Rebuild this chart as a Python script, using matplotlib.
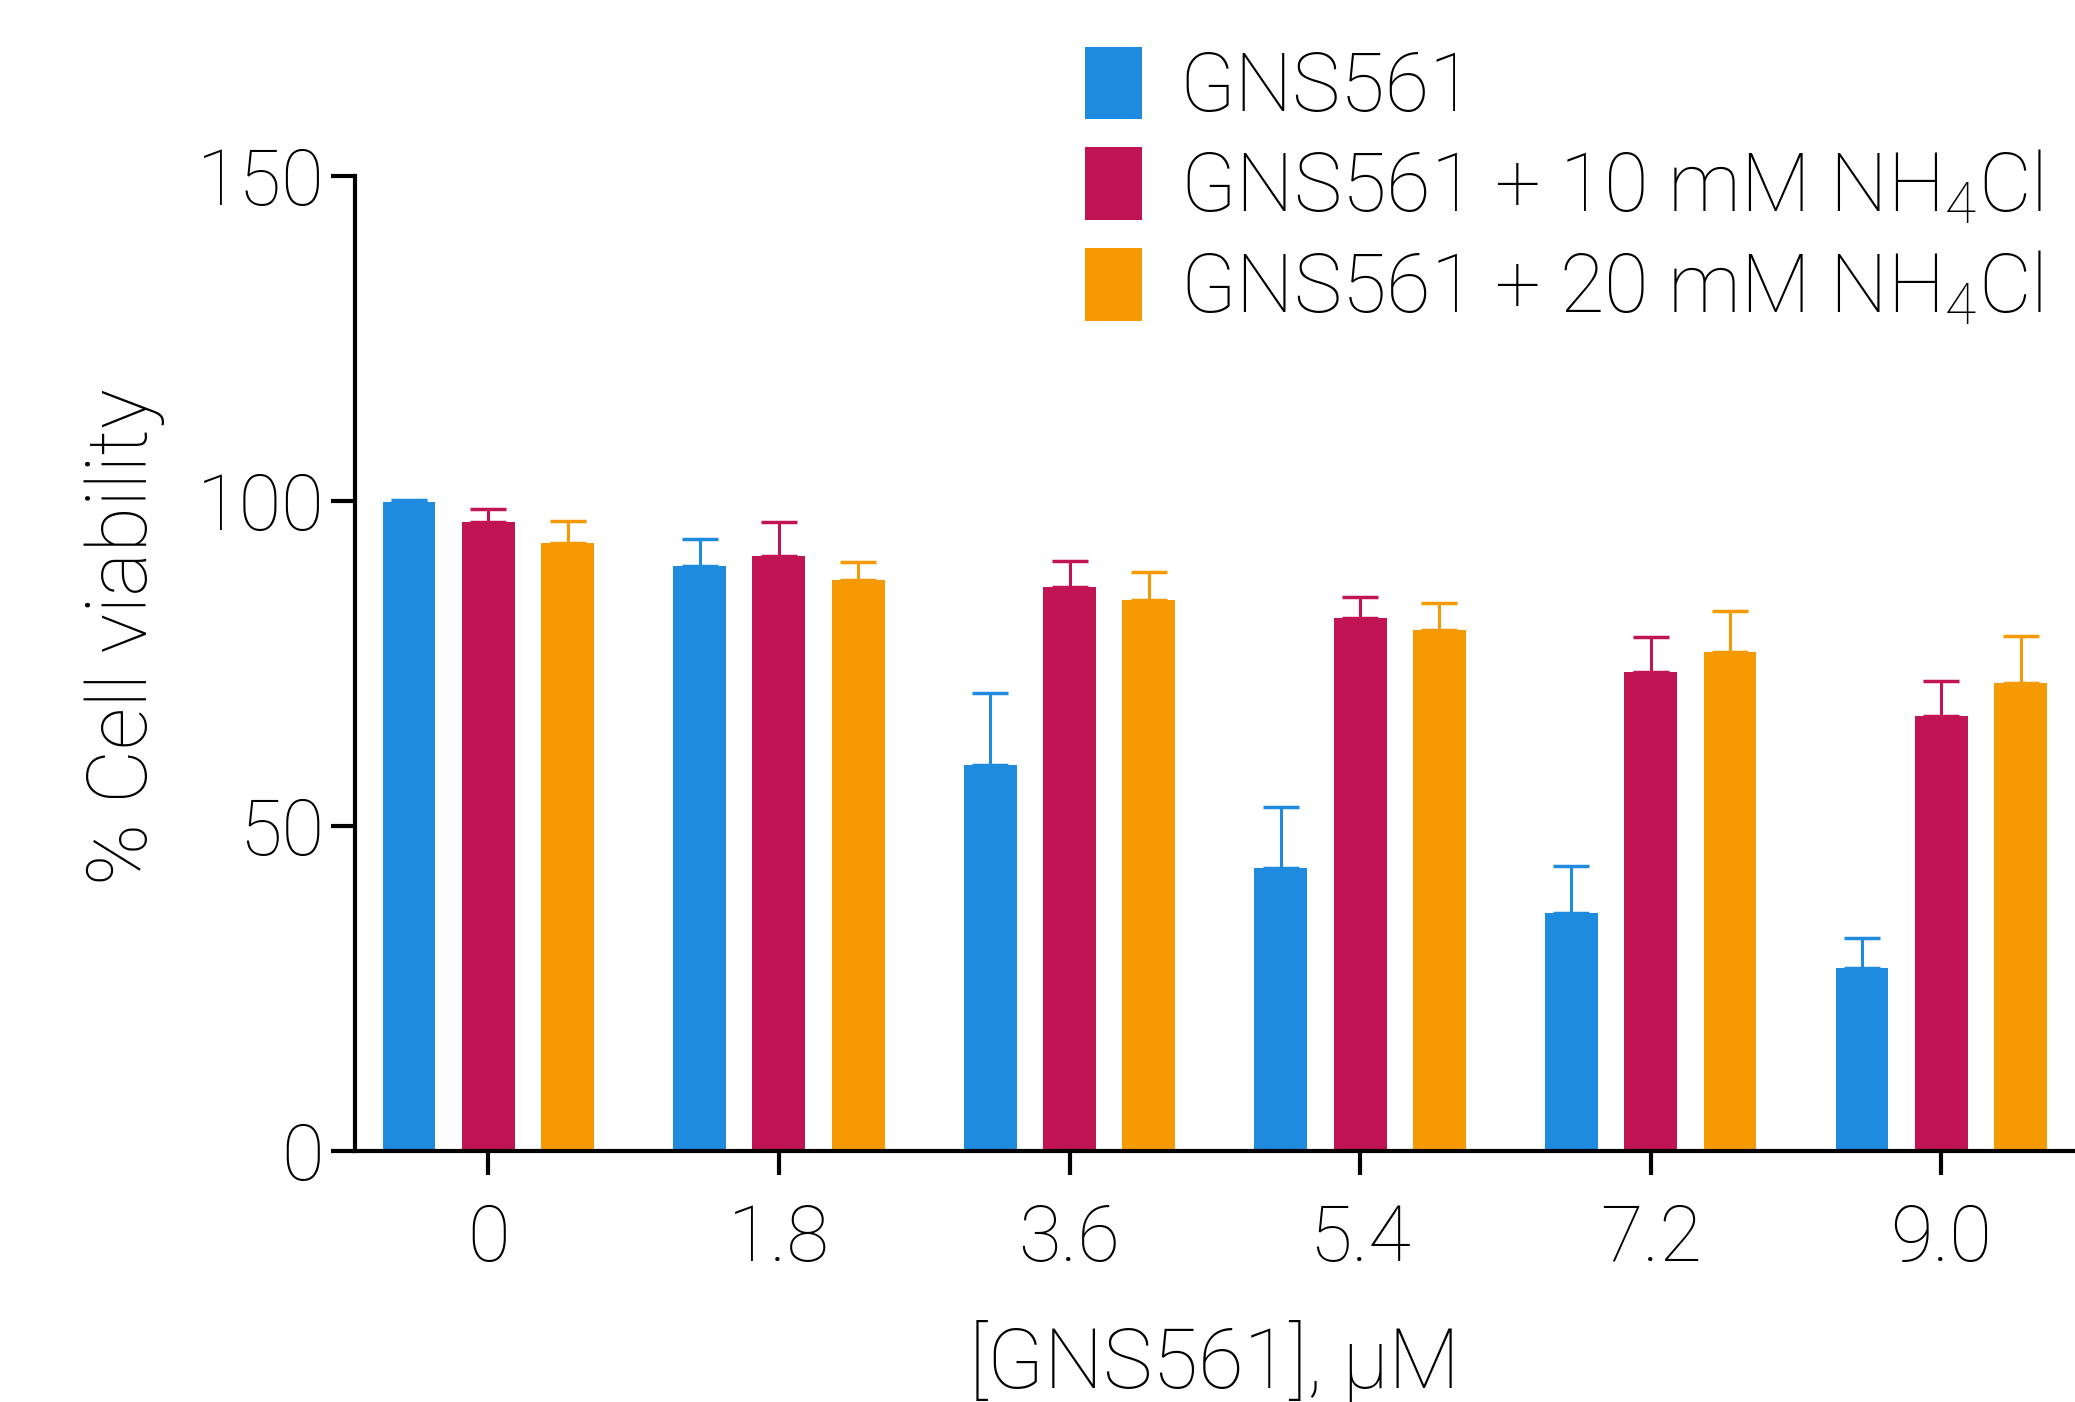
import numpy as np
import matplotlib
matplotlib.use('Agg')
import matplotlib.pyplot as plt

plt.rcParams['font.family'] = ['Roboto', 'DejaVu Sans']
plt.rcParams['font.weight'] = 'light'
plt.rcParams['axes.labelweight'] = 'light'
plt.rcParams['mathtext.default'] = 'regular'

# === Données ===
doses = ['0', '1.8', '3.6', '5.4', '7.2', '9.0']
labels = ['GNS561', 'GNS561 + 10 mM NH$_4$Cl', 'GNS561 + 20 mM NH$_4$Cl']
colors = ['#1E8BDF', '#C01455', '#F59A02']

gns = [99.8, 90.0, 59.4, 43.6, 36.6, 28.1]
gns_err = [0.4, 4.2, 11.0, 9.3, 7.2, 4.7]
nh10 = [96.8, 91.6, 86.7, 82.0, 73.7, 67.0]
nh10_err = [2.0, 5.1, 4.1, 3.3, 5.3, 5.3]
nh20 = [93.6, 87.9, 84.7, 80.2, 76.7, 72.0]
nh20_err = [3.3, 2.7, 4.3, 4.1, 6.3, 7.2]

series = [gns, nh10, nh20]
errors = [gns_err, nh10_err, nh20_err]

fig = plt.figure(figsize=(20.75, 14.02), dpi=100)
ax = fig.add_axes([0.1709, 0.179, 0.8291, 0.6955])

x = np.arange(len(doses))
w = 0.182
off = 0.273
for i, (vals, err, c, lab) in enumerate(zip(series, errors, colors, labels)):
    pos = x + (i - 1) * off
    ax.bar(pos, vals, width=w, color=c, label=lab)
    ax.errorbar(pos, vals, yerr=[np.zeros(len(err)), err], fmt='none',
                ecolor=c, elinewidth=2.2, capsize=13, capthick=2.5)

ax.set_xlim(-0.46, 5.46)
ax.set_ylim(0, 150)
ax.set_yticks([0, 50, 100, 150])
ax.set_xticks(x)
ax.set_xticklabels(doses)

for s in ['top', 'right']:
    ax.spines[s].set_visible(False)
for s in ['left', 'bottom']:
    ax.spines[s].set_linewidth(3)
ax.tick_params(axis='both', width=3, length=17, labelsize=56)
ax.tick_params(axis='x', pad=20)
ax.tick_params(axis='y', pad=5)

ax.set_ylabel('% Cell viability', fontsize=60)
ax.yaxis.set_label_coords(-0.11, 0.528)
ax.set_xlabel('[GNS561], μM', fontsize=60, labelpad=31)

fig.legend(loc='upper left', bbox_to_anchor=(0.507, 0.99), frameon=False,
           fontsize=58.5, handlelength=0.71, handleheight=1.0, handletextpad=0.46,
           labelspacing=0.24, borderaxespad=0)

plt.savefig('out.png', dpi=100)
